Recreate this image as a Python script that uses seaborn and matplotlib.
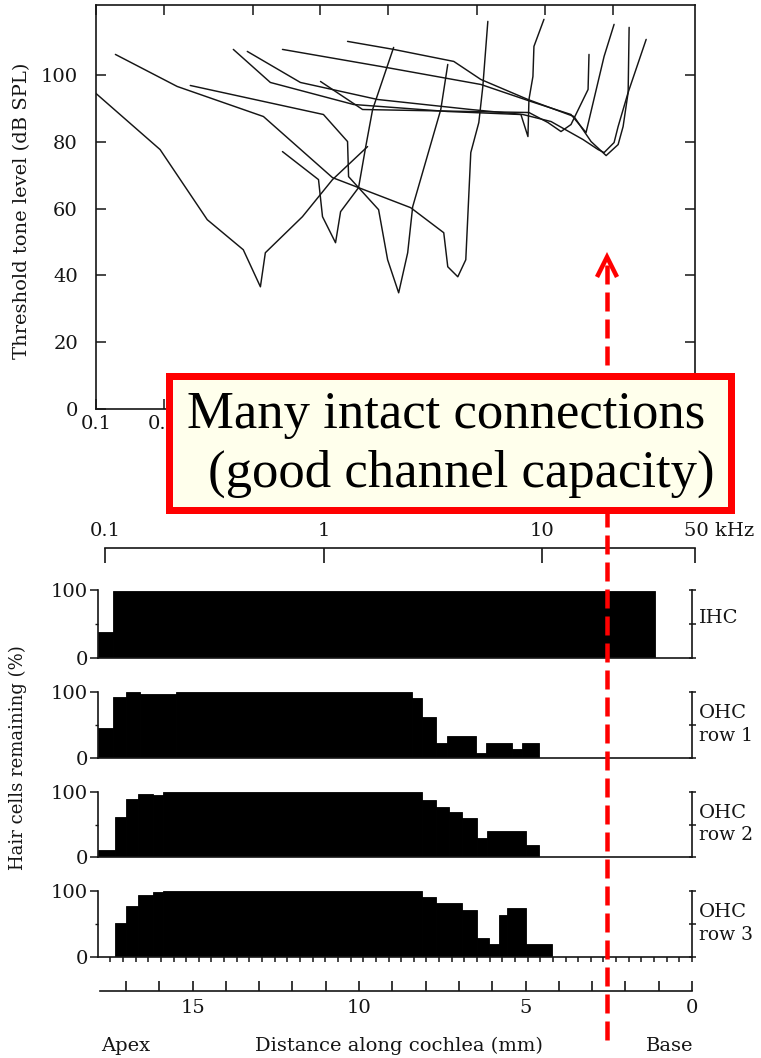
import numpy as np
import pandas as pd
import matplotlib
matplotlib.use("Agg")
import matplotlib.pyplot as plt
import seaborn as sns
from matplotlib.lines import Line2D
from matplotlib.patches import Rectangle
from matplotlib.ticker import NullLocator, FixedLocator

# ---------------- data ----------------
# Tuning curves (frequency kHz, threshold dB SPL)
tc1_khz = [0.100, 0.193, 0.313, 0.453, 0.540, 0.568, 0.831, 1.131, 1.621]
tc1_db = [94.5, 77.7, 56.7, 47.7, 36.6, 46.8, 57.6, 68.7, 78.6]
tc2_khz = [0.677, 0.980, 1.021, 1.167, 1.229, 1.478, 1.588, 1.707, 2.118]
tc2_db = [77.1, 68.7, 57.6, 49.8, 59.1, 66.3, 78.3, 89.7, 108.3]
tc3_khz = [0.122, 0.230, 0.557, 1.131, 1.478, 1.815, 1.991, 2.230, 2.446, 2.575, 3.435, 3.690]
tc3_db = [106.2, 96.6, 87.6, 69.3, 66.3, 59.7, 44.7, 34.8, 46.8, 60.6, 89.7, 103.2]
tc4_khz = [0.263, 1.031, 1.320, 1.334, 1.478, 2.522, 3.541, 3.690, 4.090, 4.439, 4.673, 5.074, 5.287, 5.566]
tc4_db = [96.9, 88.2, 80.1, 69.6, 66.3, 60.3, 52.8, 42.6, 39.6, 44.7, 76.8, 85.8, 96.6, 116.1]
tc5_khz = [0.409, 0.598, 1.404, 3.690, 7.814, 8.398, 8.485, 8.839, 8.931, 9.897]
tc5_db = [107.7, 97.8, 91.2, 89.1, 88.2, 81.6, 92.7, 99.6, 108.6, 116.7]
tc6_khz = [1.000, 1.540, 4.673, 8.485, 10.31, 11.79, 13.06, 15.56, 15.71]
tc6_db = [98.1, 89.7, 89.1, 88.8, 85.8, 83.1, 85.2, 95.7, 106.2]
tc7_khz = [0.472, 0.814, 1.797, 4.673, 7.976, 10.64, 14.78, 17.25, 18.34, 20.32, 21.18, 23.47, 28.24]
tc7_db = [107.1, 97.8, 92.7, 89.7, 88.2, 86.1, 80.7, 77.7, 76.8, 79.8, 84.6, 94.8, 110.7]
tc8_khz = [0.677, 1.853, 5.180, 8.660, 13.06, 15.24, 18.34, 20.32]
tc8_db = [107.7, 102.6, 97.2, 92.1, 88.2, 82.8, 105.6, 115.2]
tc9_khz = [1.320, 2.118, 3.925, 5.180, 8.398, 13.47, 16.05, 18.73, 21.18, 22.29, 23.47, 23.71]
tc9_db = [110.1, 107.7, 104.1, 98.7, 92.7, 87.6, 80.1, 75.9, 79.2, 84.6, 94.8, 114.3]

top_ticks_khz = [0.1, 0.2, 0.5, 1, 2, 5, 10, 20]
# labels 0.5 ... 20 lie under the call-out box in the reference, so only these show
top_tick_labels = ["0.1", "0.2", "", "", "", "", "", ""]
db_ticks = [0, 20, 40, 60, 80, 100]

# Cytocochleogram: segment edges (mm from base, apex -> base) and % hair cells remaining
ihc_edges = [17.85, 17.4, 1.1]
ihc_pct = [38, 99]
ohc1_edges = [17.85, 17.4, 17.0, 16.6, 15.5, 8.4, 8.1, 7.7, 7.35, 6.5, 6.2, 5.4, 5.1, 4.6]
ohc1_pct = [46, 92, 100, 97, 100, 91, 62, 22, 33, 7, 23, 13, 23]
ohc2_edges = [17.85, 17.35, 17.0, 16.65, 16.2, 15.9, 8.1, 7.7, 7.3, 6.9, 6.45, 6.15, 5.0, 4.6]
ohc2_pct = [11, 62, 89, 97, 95, 100, 88, 77, 70, 60, 29, 40, 18]
ohc3_edges = [17.35, 17.0, 16.65, 16.2, 15.9, 8.1, 7.7, 6.9, 6.45, 6.1, 5.8, 5.55, 5.0, 4.2]
ohc3_pct = [51, 78, 94, 98, 100, 91, 82, 71, 29, 20, 63, 75, 19]
row_names = [("IHC", ""), ("OHC", "row 1"), ("OHC", "row 2"), ("OHC", "row 3")]

freq_ticks = [0.1, 1, 10, 50]
freq_labels = ["0.1", "1", "10", ""]
dist_ticks = list(range(0, 18))
dist_labels = {15: "15", 10: "10", 5: "5", 0: "0"}

# ---------------- style ----------------
sns.set_theme(style="ticks")
plt.rcParams['font.family'] = ['DejaVu Serif']
plt.rcParams['lines.scale_dashes'] = False
INK = '#151515'
RED = '#FF0000'

W, H = 761, 1058
fig = plt.figure(figsize=(W / 100, H / 100), dpi=100)
fig.patch.set_facecolor('white')


def axrect(x0, y0, x1, y1):
    return [x0 / W, 1 - y1 / H, (x1 - x0) / W, (y1 - y0) / H]


def fx(px):
    return px / W


def fy(py):
    return 1 - py / H


PT = 0.72  # points per pixel at 100 dpi

# ---------------- tuning curves ----------------
curves = [(tc1_khz, tc1_db), (tc2_khz, tc2_db), (tc3_khz, tc3_db), (tc4_khz, tc4_db),
          (tc5_khz, tc5_db), (tc6_khz, tc6_db), (tc7_khz, tc7_db), (tc8_khz, tc8_db),
          (tc9_khz, tc9_db)]
df = pd.concat([pd.DataFrame({'kHz': k, 'dB': d, 'unit': i}) for i, (k, d) in enumerate(curves)],
               ignore_index=True)

ax = fig.add_axes(axrect(96, 5, 695, 409))
sns.lineplot(data=df, x='kHz', y='dB', units='unit', estimator=None, sort=False,
             color=INK, linewidth=1.05, ax=ax, legend=False)
ax.set_xscale('log')
ax.set_xlim(0.1, 46.6)
ax.set_ylim(0, 121)
ax.set_xticks(top_ticks_khz)
ax.set_xticklabels(top_tick_labels)
ax.xaxis.set_minor_locator(NullLocator())
ax.set_yticks(db_ticks)
ax.set_xlabel('')
ax.set_ylabel('')
for s in ax.spines.values():
    s.set_color(INK)
    s.set_linewidth(1.2)
ax.tick_params(axis='both', which='major', direction='in', top=True, right=True,
               length=10 * PT, width=1.1, labelsize=14, colors=INK)
ax.tick_params(axis='y', pad=13)
ax.tick_params(axis='x', pad=4)
fig.text(fx(22), fy(211), "Threshold tone level (dB SPL)", rotation=90,
         ha='center', va='center', fontsize=14, color=INK)

# ---------------- frequency axis above cochleogram ----------------
axf = fig.add_axes(axrect(105, 548, 695, 549))
axf.set_xscale('log')
axf.set_xlim(0.1, 50)
axf.set_ylim(0, 1)
axf.patch.set_visible(False)
for s in ['left', 'right', 'bottom']:
    axf.spines[s].set_visible(False)
axf.spines['top'].set_color(INK)
axf.spines['top'].set_linewidth(1.2)
axf.set_yticks([])
axf.xaxis.set_major_locator(FixedLocator(freq_ticks))
axf.set_xticklabels(freq_labels)
axf.xaxis.set_minor_locator(NullLocator())
axf.tick_params(axis='x', which='major', top=True, bottom=False, labeltop=True,
                labelbottom=False, direction='in', length=15 * PT, width=1.2,
                labelsize=14, pad=6, colors=INK)
axf.annotate("50 kHz", xy=(50, 1), xycoords=('data', 'axes fraction'),
             xytext=(-8, 6), textcoords='offset points', ha='left', va='bottom',
             fontsize=14, color=INK, annotation_clip=False)

# ---------------- cochleogram panels ----------------
panel_data = [(ihc_edges, ihc_pct), (ohc1_edges, ohc1_pct), (ohc2_edges, ohc2_pct),
              (ohc3_edges, ohc3_pct)]
tops = [590, 692, 792, 891]
bots = [658, 758, 857, 957]
for i, (edges, pct) in enumerate(panel_data):
    axb = fig.add_axes(axrect(98, tops[i], 692, bots[i]))
    e = np.array(edges, dtype=float)[::-1]
    h = np.array(pct, dtype=float)[::-1]
    sns.histplot(x=(e[:-1] + e[1:]) / 2, weights=h, bins=list(e), ax=axb, color='black',
                 alpha=1, edgecolor='black', linewidth=0.6)
    axb.set_xlim(17.85, 0)
    axb.set_ylim(0, 100)
    axb.set_xlabel('')
    axb.set_ylabel('')
    axb.spines['top'].set_visible(False)
    axb.spines['right'].set_visible(False)
    for s in ['left', 'bottom']:
        axb.spines[s].set_color(INK)
        axb.spines[s].set_linewidth(1.2)
    axb.set_yticks([0, 100])
    axb.set_yticks([50], minor=True)
    axb.tick_params(axis='y', which='major', direction='out', length=8 * PT, width=1.1,
                    labelsize=14, pad=1.5, colors=INK, left=True)
    axb.tick_params(axis='y', which='minor', direction='out', length=3 * PT, width=1.0,
                    left=True, colors=INK)
    if i == 3:
        axb.xaxis.set_major_locator(FixedLocator(np.arange(0, 17.5, 0.38)))
        axb.tick_params(axis='x', which='major', direction='out', length=5 * PT,
                        width=1.1, labelbottom=False, bottom=True, colors=INK)
    else:
        axb.set_xticks([])
    axb.xaxis.set_minor_locator(NullLocator())
    axr = axb.twinx()
    axr.set_ylim(0, 100)
    axr.set_yticks([0, 50, 100])
    for s in ['left', 'top', 'bottom']:
        axr.spines[s].set_visible(False)
    axr.spines['right'].set_color(INK)
    axr.spines['right'].set_linewidth(1.2)
    axr.tick_params(axis='y', direction='inout', length=7 * PT, width=1.1,
                    labelright=False, right=True, colors=INK)
    mid = (tops[i] + bots[i]) / 2
    name, row = row_names[i]
    if row:
        fig.text(fx(699), fy(mid - 12), name, ha='left', va='center', fontsize=14, color=INK)
        fig.text(fx(699), fy(mid + 11), row, ha='left', va='center', fontsize=13.5, color=INK)
    else:
        fig.text(fx(699), fy(mid - 6), name, ha='left', va='center', fontsize=14, color=INK)

fig.text(fx(18), fy(758), "Hair cells remaining (%)", rotation=90, ha='center',
         va='center', fontsize=13, color=INK)

# ---------------- distance axis ----------------
axd = fig.add_axes(axrect(100, 990, 692, 991))
axd.set_xlim(17.78, 0)
axd.set_ylim(0, 1)
axd.patch.set_visible(False)
for s in ['left', 'right', 'top']:
    axd.spines[s].set_visible(False)
axd.spines['bottom'].set_color(INK)
axd.spines['bottom'].set_linewidth(1.2)
axd.set_yticks([])
axd.xaxis.set_major_locator(FixedLocator(dist_ticks))
axd.set_xticklabels([dist_labels.get(t, "") for t in dist_ticks])
axd.xaxis.set_minor_locator(NullLocator())
axd.tick_params(axis='x', direction='in', length=10 * PT, width=1.2, labelsize=14,
                pad=6, colors=INK)
fig.text(fx(126), fy(1051), "Apex", ha='center', va='baseline', fontsize=14, color=INK)
fig.text(fx(399), fy(1051), "Distance along cochlea (mm)", ha='center', va='baseline',
         fontsize=14, color=INK)
fig.text(fx(670), fy(1051), "Base", ha='center', va='baseline', fontsize=14, color=INK)

# ---------------- annotation overlay ----------------
shaft = Line2D([fx(607), fx(607)], [fy(1040), fy(262)], transform=fig.transFigure,
               color=RED, linewidth=4.5 * PT, linestyle=(0, (19 * PT, 8 * PT)),
               solid_capstyle='butt', dash_capstyle='butt', zorder=5)
fig.add_artist(shaft)
head = Line2D([fx(597), fx(607), fx(617)], [fy(277), fy(257), fy(277)],
              transform=fig.transFigure, color=RED, linewidth=4.5 * PT,
              solid_joinstyle='miter', solid_capstyle='butt', zorder=5)
fig.add_artist(head)

box = Rectangle((fx(168.5), fy(509.5)), (730.5 - 168.5) / W, (509.5 - 375.5) / H,
                transform=fig.transFigure, facecolor='#FFFFEC', edgecolor=RED,
                linewidth=7 * PT, joinstyle='miter', zorder=6)
fig.add_artist(box)
fig.text(fx(446), fy(428), "Many intact connections", ha='center', va='baseline',
         fontsize=38, family=['Liberation Serif', 'DejaVu Serif'], color='black', zorder=7)
fig.text(fx(461), fy(487), "(good channel capacity)", ha='center', va='baseline',
         fontsize=38, family=['Liberation Serif', 'DejaVu Serif'], color='black', zorder=7)

fig.savefig("out.png", dpi=100, facecolor='white')
